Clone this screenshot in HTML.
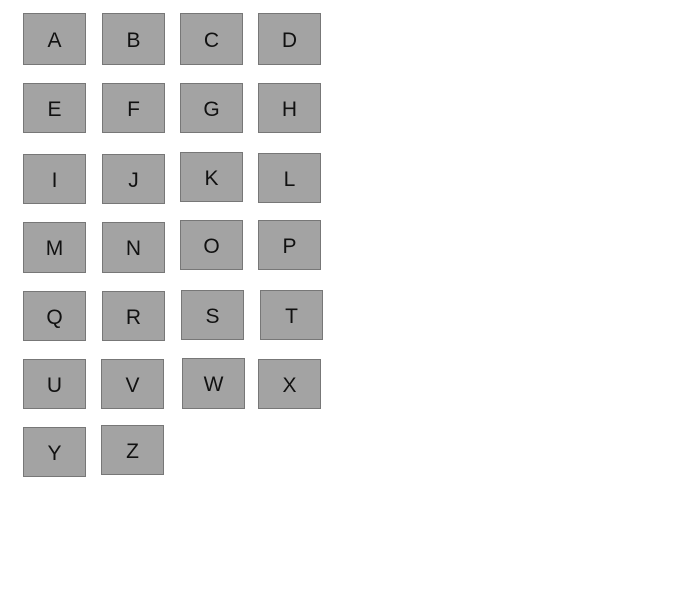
<!DOCTYPE html>
<html><head><meta charset="utf-8"><style>
body{margin:0;width:679px;height:590px;background:#fff;position:relative;overflow:hidden}
.b{position:absolute;box-sizing:border-box;width:63px;height:50px;background:#a3a3a3;border:1px solid #777;padding-top:3px;
display:flex;align-items:center;justify-content:center;font:21px "Liberation Sans","Noto Sans CJK SC",sans-serif;color:#111}
</style></head><body>
<div class="b" style="left:23px;top:13px;height:52px">A</div>
<div class="b" style="left:102px;top:13px;height:52px">B</div>
<div class="b" style="left:180px;top:13px;height:52px">C</div>
<div class="b" style="left:258px;top:13px;height:52px">D</div>
<div class="b" style="left:23px;top:83px">E</div>
<div class="b" style="left:102px;top:83px">F</div>
<div class="b" style="left:180px;top:83px">G</div>
<div class="b" style="left:258px;top:83px">H</div>
<div class="b" style="left:23px;top:154px">I</div>
<div class="b" style="left:102px;top:154px">J</div>
<div class="b" style="left:180px;top:152px">K</div>
<div class="b" style="left:258px;top:153px">L</div>
<div class="b" style="left:23px;top:222px;height:51px">M</div>
<div class="b" style="left:102px;top:222px;height:51px">N</div>
<div class="b" style="left:180px;top:220px">O</div>
<div class="b" style="left:258px;top:220px">P</div>
<div class="b" style="left:23px;top:291px">Q</div>
<div class="b" style="left:102px;top:291px">R</div>
<div class="b" style="left:181px;top:290px">S</div>
<div class="b" style="left:260px;top:290px">T</div>
<div class="b" style="left:23px;top:359px">U</div>
<div class="b" style="left:101px;top:359px">V</div>
<div class="b" style="left:182px;top:358px;height:51px">W</div>
<div class="b" style="left:258px;top:359px">X</div>
<div class="b" style="left:23px;top:427px">Y</div>
<div class="b" style="left:101px;top:425px">Z</div>
</body></html>
